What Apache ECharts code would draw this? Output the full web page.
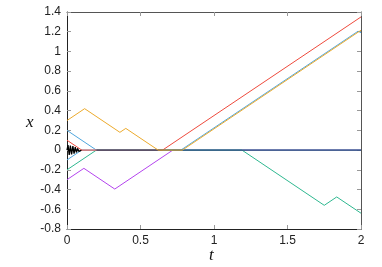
<!DOCTYPE html>
<html>
<head>
<meta charset="utf-8">
<script src="https://cdn.jsdelivr.net/npm/echarts@6/dist/echarts.min.js"></script>
<style>
html,body{margin:0;padding:0;background:#fff;}
#c{width:382px;height:267px;}
</style>
</head>
<body>
<div id="c"></div>
<script>
// axis ticks
const xTicks = [0, 0.5, 1, 1.5, 2];
const yTicks = [-0.8, -0.6, -0.4, -0.2, 0, 0.2, 0.4, 0.6, 0.8, 1, 1.2, 1.4];

// trajectories [t, x]
const purplePts = [[0,-0.3],[0.115,-0.185],[0.325,-0.395],[0.72,0],[2,0]];
const greenPts  = [[0,-0.2],[0.2,0],[1.19,0],[1.75,-0.56],[1.835,-0.475],[2,-0.64]];
const blueLowPts = [[0,-0.1],[0.1,0],[0.775,0],[1.98,1.205],[2,1.19]];
const blueHighPts = [[0,0.2],[0.2,0],[2,0]];
const blackPts = [[0,0],[0.007,0.05],[0.015,-0.05],[0.023,0.046],[0.031,-0.044],[0.04,0.04],[0.048,-0.035],[0.056,0.03],[0.064,-0.024],[0.072,0.018],[0.08,-0.012],[0.088,0.006],[0.1,0]];
const redPts    = [[0,0.1],[0.1,0],[0.65,0],[2,1.35]];
const restPts   = [[0.2,0],[2,0]];
const orangePts = [[0,0.3],[0.12,0.42],[0.36,0.18],[0.40,0.22],[0.62,0],[0.785,0],[2,1.215]];

const chart = echarts.init(document.getElementById('c'), null, {renderer:'canvas'});
const fmt = v => String(Math.round(v*10)/10);
function line(data, color, z, w){
  return {type:'line', data:data, symbol:'none', showSymbol:false, animation:false,
    lineStyle:{color:color, width:w || 1}, z:z, xAxisIndex:0, yAxisIndex:0};
}
const font = {fontFamily:'Liberation Sans, Arial, sans-serif', fontSize:12, color:'#222'};
chart.setOption({
  animation:false,
  grid:{left:67, right:21, top:12, bottom:38},
  xAxis:[
    {type:'value', min:xTicks[0], max:xTicks[xTicks.length-1], interval:0.5,
     axisLine:{show:true, onZero:false, lineStyle:{color:'#222', width:1}},
     axisTick:{show:true, inside:true, length:4, lineStyle:{color:'#999'}},
     axisLabel:Object.assign({margin:6, formatter:fmt}, font),
     splitLine:{show:false}},
    {type:'value', position:'top', min:xTicks[0], max:xTicks[xTicks.length-1], interval:0.5,
     axisLine:{show:true, onZero:false, lineStyle:{color:'#555', width:1}},
     axisTick:{show:true, inside:true, length:4, lineStyle:{color:'#999'}},
     axisLabel:{show:false}, splitLine:{show:false}}
  ],
  yAxis:[
    {type:'value', min:yTicks[0], max:yTicks[yTicks.length-1], interval:0.2,
     axisLine:{show:true, onZero:false, lineStyle:{color:'#222', width:1}},
     axisTick:{show:true, inside:true, length:4, lineStyle:{color:'#999'}},
     axisLabel:Object.assign({margin:6, formatter:fmt}, font),
     splitLine:{show:false}},
    {type:'value', position:'right', min:yTicks[0], max:yTicks[yTicks.length-1], interval:0.2,
     axisLine:{show:true, onZero:false, lineStyle:{color:'#555', width:1}},
     axisTick:{show:true, inside:true, length:4, lineStyle:{color:'#999'}},
     axisLabel:{show:false}, splitLine:{show:false}}
  ],
  series:[
    line(purplePts, '#b444ee', 1),
    line(greenPts, '#2fb890', 2),
    line(blueLowPts, '#4fa6dd', 3),
    line(blueHighPts, '#4fa6dd', 4),
    line(blackPts, '#000000', 5, 1.3),
    line(redPts, '#ee4a3c', 6),
    line(restPts, '#22395a', 7),
    line(orangePts, '#ecaa2c', 8)
  ],
  graphic:[
    {type:'text', left:26, top:114, style:{text:'x', font:'italic 17px "Liberation Serif", "DejaVu Serif", serif', fill:'#111'}},
    {type:'text', left:209, top:247, style:{text:'t', font:'italic 17px "Liberation Serif", "DejaVu Serif", serif', fill:'#111'}}
  ]
});
</script>
</body>
</html>
